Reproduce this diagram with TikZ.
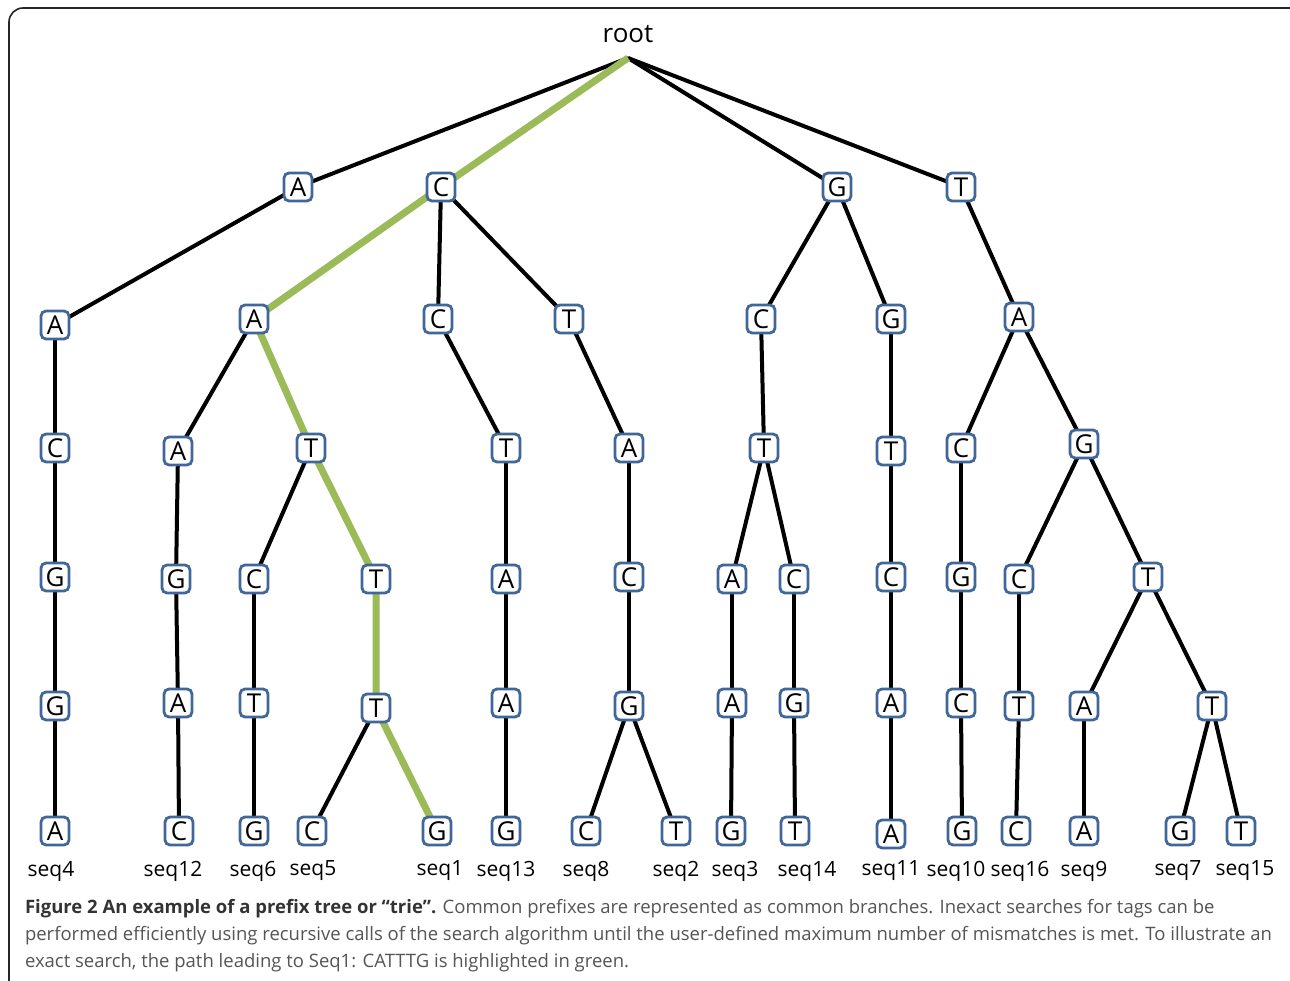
\documentclass[tikz,border=0pt]{standalone}
\usepackage{fontspec}
\setmainfont{Open Sans}
\usetikzlibrary{backgrounds}
\definecolor{boxblue}{HTML}{41679A}
\definecolor{pathgreen}{HTML}{9BBB59}
\definecolor{captxt}{HTML}{555555}
\definecolor{capbold}{HTML}{333333}
\tikzset{
  base/.style={inner sep=0pt, outer sep=0pt},
  letterbox/.style={base, draw=boxblue, line width=2.8pt, fill=white, rounded corners=5pt,
    minimum width=28pt, minimum height=28pt, font=\fontsize{26}{28}\selectfont, text=black},
  seqlab/.style={base, font=\fontsize{21}{24}\selectfont, text=black},
  edge/.style={line width=4pt, black},
  hl/.style={line width=7pt, pathgreen},
  captext/.style={base, anchor=west, font=\fontsize{18.5}{22}\selectfont, text=captxt}
}
\begin{document}
\begin{tikzpicture}[x=1pt,y=-1pt]
\useasboundingbox (0,0) rectangle (1290,981);
% root
\node[base, font=\fontsize{26}{30}\selectfont] (root) at (628,34) {root};
\coordinate (r) at (628,58);
% level 1
\node[letterbox] (A) at (298,187) {A};
\node[letterbox] (C) at (441,187) {C};
\node[letterbox] (G) at (837,187) {G};
\node[letterbox] (T) at (961,187) {T};
% level 2
\node[letterbox] (AA) at (55,325) {A};
\node[letterbox] (CA) at (254,319) {A};
\node[letterbox] (CC) at (438,319) {C};
\node[letterbox] (CT) at (569,319) {T};
\node[letterbox] (GC) at (761,319) {C};
\node[letterbox] (GG) at (891,319) {G};
\node[letterbox] (TA) at (1019,317) {A};
% level 3
\node[letterbox] (AAC) at (55,448) {C};
\node[letterbox] (CAA) at (178,451) {A};
\node[letterbox] (CAT) at (311,448) {T};
\node[letterbox] (CCT) at (506,448) {T};
\node[letterbox] (CTA) at (629,448) {A};
\node[letterbox] (GCT) at (764,448) {T};
\node[letterbox] (GGT) at (891,451) {T};
\node[letterbox] (TAC) at (961,448) {C};
\node[letterbox] (TAG) at (1084,444) {G};
% level 4
\node[letterbox] (AACG) at (55,577) {G};
\node[letterbox] (CAAG) at (176,579) {G};
\node[letterbox] (CATC) at (254,579) {C};
\node[letterbox] (CATT) at (376,579) {T};
\node[letterbox] (CCTA) at (506,579) {A};
\node[letterbox] (CTAC) at (629,577) {C};
\node[letterbox] (GCTA) at (732,579) {A};
\node[letterbox] (GCTC) at (794,579) {C};
\node[letterbox] (GGTC) at (891,577) {C};
\node[letterbox] (TACG) at (961,577) {G};
\node[letterbox] (TAGC) at (1019,579) {C};
\node[letterbox] (TAGT) at (1148,577) {T};
% level 5
\node[letterbox] (AACGG) at (55,706) {G};
\node[letterbox] (CAAGA) at (178,703) {A};
\node[letterbox] (CATCT) at (254,703) {T};
\node[letterbox] (CATTT) at (376,708) {T};
\node[letterbox] (CCTAA) at (506,703) {A};
\node[letterbox] (CTACG) at (629,706) {G};
\node[letterbox] (GCTAA) at (732,703) {A};
\node[letterbox] (GCTCG) at (794,703) {G};
\node[letterbox] (GGTCA) at (891,703) {A};
\node[letterbox] (TACGC) at (961,703) {C};
\node[letterbox] (TAGCT) at (1019,706) {T};
\node[letterbox] (TAGTA) at (1084,706) {A};
\node[letterbox] (TAGTT) at (1212,706) {T};
% level 6
\node[letterbox] (AACGGA) at (55,831) {A};
\node[letterbox] (CAAGAC) at (179,831) {C};
\node[letterbox] (CATCTG) at (254,831) {G};
\node[letterbox] (CATTTC) at (312,831) {C};
\node[letterbox] (CATTTG) at (437,831) {G};
\node[letterbox] (CCTAAG) at (506,831) {G};
\node[letterbox] (CTACGC) at (586,831) {C};
\node[letterbox] (CTACGT) at (676,831) {T};
\node[letterbox] (GCTAAG) at (731,831) {G};
\node[letterbox] (GCTCGT) at (795,831) {T};
\node[letterbox] (GGTCAA) at (891,834) {A};
\node[letterbox] (TACGCG) at (962,831) {G};
\node[letterbox] (TAGCTC) at (1016,831) {C};
\node[letterbox] (TAGTAA) at (1084,831) {A};
\node[letterbox] (TAGTTG) at (1180,831) {G};
\node[letterbox] (TAGTTT) at (1241,831) {T};
% sequence labels
\node[seqlab] (s4) at (51,871) {seq4};
\node[seqlab] (s12) at (173,871) {seq12};
\node[seqlab] (s6) at (253,871) {seq6};
\node[seqlab] (s5) at (313,871) {seq5};
\node[seqlab] (s1) at (440,871) {seq1};
\node[seqlab] (s13) at (506,871) {seq13};
\node[seqlab] (s8) at (586,871) {seq8};
\node[seqlab] (s2) at (676,871) {seq2};
\node[seqlab] (s3) at (735,871) {seq3};
\node[seqlab] (s14) at (807,871) {seq14};
\node[seqlab] (s11) at (891,871) {seq11};
\node[seqlab] (s10) at (956,871) {seq10};
\node[seqlab] (s16) at (1020,871) {seq16};
\node[seqlab] (s9) at (1084,871) {seq9};
\node[seqlab] (s7) at (1178,871) {seq7};
\node[seqlab] (s15) at (1245,871) {seq15};
% caption
\node[captext] (cap1) at (25,909) {{\bfseries\color{capbold}Figure 2 An example of a prefix tree or “trie”.} Common prefixes are represented as common branches. Inexact searches for tags can be};
\node[captext] (cap2) at (25,936) {performed efficiently using recursive calls of the search algorithm until the user-defined maximum number of mismatches is met. To illustrate an};
\node[captext] (cap3) at (25,963) {exact search, the path leading to Seq1: CATTTG is highlighted in green.};
\begin{scope}[on background layer]
  \fill[white] (0,0) rectangle (1290,981);
  \draw[line width=1.6pt, rounded corners=14pt, black!85] (9,1000) -- (9,8) -- (1310,8);
  \foreach \a/\b in {r/A, r/G, r/T,
    A/AA, AA/AAC, AAC/AACG, AACG/AACGG, AACGG/AACGGA,
    C/CC, C/CT,
    CA/CAA, CAA/CAAG, CAAG/CAAGA, CAAGA/CAAGAC,
    CAT/CATC, CATC/CATCT, CATCT/CATCTG, CATTT/CATTTC,
    CC/CCT, CCT/CCTA, CCTA/CCTAA, CCTAA/CCTAAG,
    CT/CTA, CTA/CTAC, CTAC/CTACG, CTACG/CTACGC, CTACG/CTACGT,
    G/GC, G/GG, GC/GCT, GCT/GCTA, GCT/GCTC, GCTA/GCTAA, GCTAA/GCTAAG,
    GCTC/GCTCG, GCTCG/GCTCGT,
    GG/GGT, GGT/GGTC, GGTC/GGTCA, GGTCA/GGTCAA,
    T/TA, TA/TAC, TA/TAG, TAC/TACG, TACG/TACGC, TACGC/TACGCG,
    TAG/TAGC, TAG/TAGT, TAGC/TAGCT, TAGCT/TAGCTC,
    TAGT/TAGTA, TAGT/TAGTT, TAGTA/TAGTAA, TAGTT/TAGTTG, TAGTT/TAGTTT}
    {\draw[edge] (\a.center) -- (\b.center);}
  \draw[hl] (r) -- (C.center) -- (CA.center) -- (CAT.center) -- (CATT.center) -- (CATTT.center) -- (CATTTG.center);
\end{scope}
\end{tikzpicture}
\end{document}
